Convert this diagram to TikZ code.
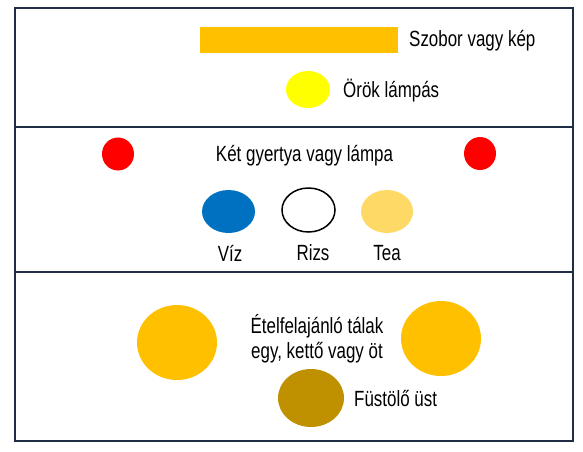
\documentclass[tikz,border=0pt]{standalone}
\usepackage{fontspec}
\setmainfont{Liberation Sans}[FakeStretch=0.77]
\definecolor{frame}{RGB}{31,45,70}
\definecolor{gold}{RGB}{255,192,0}
\definecolor{lamp}{RGB}{255,255,0}
\definecolor{candle}{RGB}{255,0,0}
\definecolor{water}{RGB}{0,112,192}
\definecolor{tea}{RGB}{255,217,102}
\definecolor{incense}{RGB}{191,144,0}
\tikzset{
  panel/.style={draw=frame, line width=2pt},
  lbl/.style={font=\fontsize{22}{24}\selectfont, inner sep=0pt, text=black},
  blob/.style={ellipse, inner sep=0pt, draw=none}
}
\usetikzlibrary{shapes.geometric}
\begin{document}
\begin{tikzpicture}[x=1pt,y=-1pt]
\useasboundingbox (0,0) rectangle (583,451);
% panels
\draw[panel] (15,8) rectangle (573,126.5);
\draw[panel] (15,126.5) rectangle (573,272);
\draw[panel] (15,272) rectangle (573,441);
% top panel
\node[fill=gold, minimum width=198pt, minimum height=26pt, inner sep=0pt] (statue) at (299,40) {};
\node[lbl, anchor=west] (statuel) at (409,41) {Szobor vagy kép};
\node[blob, fill=lamp, minimum width=44pt, minimum height=37pt] (lampa) at (308,89.5) {};
\node[lbl, anchor=west] (lampal) at (343,91) {Örök lámpás};
% middle panel
\node[blob, fill=candle, minimum width=32pt, minimum height=33pt] (c1) at (118,154) {};
\node[blob, fill=candle, minimum width=32pt, minimum height=33pt] (c2) at (480,153.5) {};
\node[lbl] (candlel) at (304.5,156) {Két gyertya vagy lámpa};
\node[blob, fill=water, minimum width=53pt, minimum height=43pt] (viz) at (228.5,211.5) {};
\node[blob, draw=black, line width=1.5pt, fill=white, minimum width=53pt, minimum height=44pt] (rizs) at (308.5,210) {};
\node[blob, fill=tea, minimum width=52pt, minimum height=43pt] (tea) at (387,211.5) {};
\node[lbl] (vizl) at (230,253) {Víz};
\node[lbl] (rizsl) at (313,253) {Rizs};
\node[lbl] (teal) at (387,253) {Tea};
% bottom panel
\node[blob, fill=gold, minimum width=80pt, minimum height=75pt] (t1) at (177,342.5) {};
\node[blob, fill=gold, minimum width=80pt, minimum height=75pt] (t2) at (441,338.5) {};
\node[lbl, align=center] (talak) at (317,339) {Ételfelajánló tálak\\[1pt]egy, kettő vagy öt};
\node[blob, fill=incense, minimum width=66pt, minimum height=58pt] (ust) at (311,398) {};
\node[lbl, anchor=west] (ustl) at (354,398) {Füstölő üst};
\end{tikzpicture}
\end{document}
